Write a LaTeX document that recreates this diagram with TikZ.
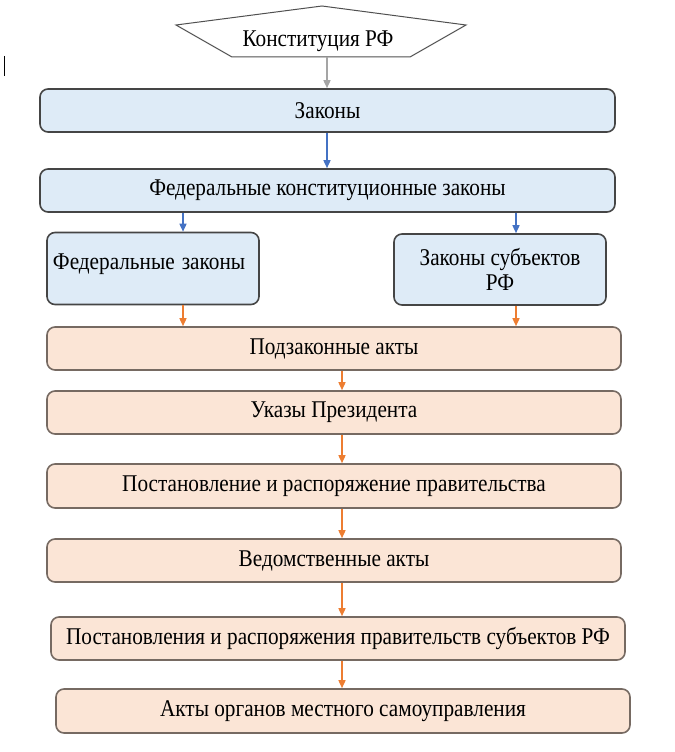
\documentclass[tikz,border=0pt]{standalone}
\usepackage{fontspec}
\usepackage{graphicx}
\setmainfont{Liberation Serif}
\usetikzlibrary{arrows.meta}
\definecolor{bfill}{HTML}{DEEBF7}
\definecolor{ofill}{HTML}{FBE5D6}
\definecolor{bbord}{HTML}{454545}
\definecolor{obord}{HTML}{766A62}
\definecolor{pbord}{HTML}{505050}
\definecolor{garrow}{HTML}{A5A5A5}
\definecolor{barrow}{HTML}{4472C4}
\definecolor{oarrow}{HTML}{ED7D31}
\newcommand{\ctxt}[1]{\scalebox{0.885}[1]{#1}}
\tikzset{
  box/.style={line width=1.6bp, rounded corners=8bp, inner sep=0pt,
    font=\fontsize{24bp}{26bp}\selectfont, align=center},
  bluebox/.style={box, draw=bbord, fill=bfill},
  orbox/.style={box, draw=obord, fill=ofill},
  conn/.style={line width=1.5bp, -{Triangle[length=8bp,width=7bp]}},
}
\begin{document}
\begin{tikzpicture}[x=1bp,y=-1bp]
\useasboundingbox (0,0) rectangle (675,752);
% pentagon
\coordinate (p1) at (176,25);
\coordinate (p2) at (322,6);
\coordinate (p3) at (466,25);
\coordinate (p4) at (410,57);
\coordinate (p5) at (232,57);
\draw[pbord, line width=1bp] (p1) -- (p2) -- (p3) -- (p4) -- (p5) -- cycle;
\node[font=\fontsize{24bp}{26bp}\selectfont, inner sep=0pt] (konst) at (318,41) {\ctxt{Конституция РФ}};
\coordinate (kb) at (327,57);
% cursor mark
\draw[line width=0.8bp] (4,56) -- (4,76);
% boxes
\node[bluebox, minimum width=575bp, minimum height=43bp] (zak) at (327.5,110.5) {\ctxt{Законы}};
\node[bluebox, minimum width=575bp, minimum height=43bp] (fkz) at (327.5,190.5) {\ctxt{Федеральные конституционные законы}};
\node[bluebox, minimum width=212bp, minimum height=72bp, text width=200bp, align=left, text depth=13bp] (fz) at (153,268.5) {\ctxt{Федеральные законы}};
\node[bluebox, minimum width=212bp, minimum height=71bp] (zs) at (500,269.5) {\ctxt{Законы субъектов}\\[-1bp]\ctxt{РФ}};
\node[orbox, minimum width=574bp, minimum height=43bp] (pa) at (334,348.5) {\ctxt{Подзаконные акты}};
\node[orbox, minimum width=574bp, minimum height=43bp] (up) at (334,412.5) {\ctxt{Указы Президента}};
\node[orbox, minimum width=574bp, minimum height=44bp] (pr) at (334,486) {\ctxt{Постановление и распоряжение правительства}};
\node[orbox, minimum width=574bp, minimum height=43bp] (va) at (334,560.5) {\ctxt{Ведомственные акты}};
\node[orbox, minimum width=574bp, minimum height=43bp] (ps) at (338,638.5) {\ctxt{Постановления и распоряжения правительств субъектов РФ}};
\node[orbox, minimum width=574bp, minimum height=44bp] (ao) at (343,711) {\ctxt{Акты органов местного самоуправления}};
% connectors
\draw[conn, garrow] (kb) -- (zak.north -| kb);
\draw[conn, barrow] (zak.south -| kb) -- (fkz.north -| kb);
\draw[conn, barrow] (fkz.south -| 183,0) -- (fz.north -| 183,0);
\draw[conn, barrow] (fkz.south -| 516,0) -- (zs.north -| 516,0);
\draw[conn, oarrow] (fz.south -| 183,0) -- (pa.north -| 183,0);
\draw[conn, oarrow] (zs.south -| 516,0) -- (pa.north -| 516,0);
\draw[conn, oarrow] (pa.south -| 342,0) -- (up.north -| 342,0);
\draw[conn, oarrow] (up.south -| 342,0) -- (pr.north -| 342,0);
\draw[conn, oarrow] (pr.south -| 342,0) -- (va.north -| 342,0);
\draw[conn, oarrow] (va.south -| 342,0) -- (ps.north -| 342,0);
\draw[conn, oarrow] (ps.south -| 342,0) -- (ao.north -| 342,0);
\end{tikzpicture}
\end{document}
